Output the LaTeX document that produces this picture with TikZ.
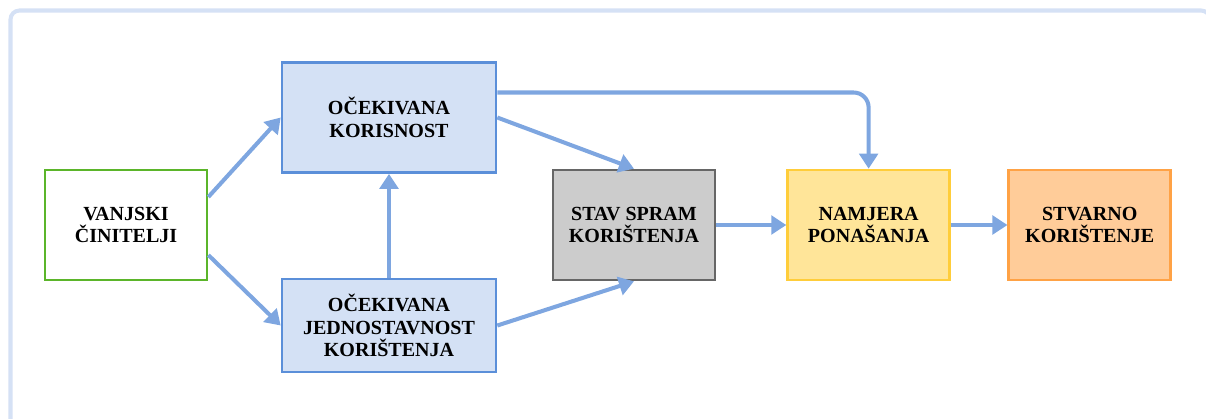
\documentclass[tikz,border=0pt]{standalone}
\usepackage{fontspec}
\setmainfont{Liberation Serif}
\usetikzlibrary{positioning,arrows.meta}

\definecolor{framecol}{HTML}{D5E1F5}
\definecolor{arrowcol}{HTML}{7EA6E0}
\definecolor{bluefill}{HTML}{D4E1F5}
\definecolor{bluedraw}{HTML}{5B8FD9}
\definecolor{greendraw}{HTML}{5BB52A}
\definecolor{greyfill}{HTML}{CCCCCC}
\definecolor{greydraw}{HTML}{666666}
\definecolor{yellowfill}{HTML}{FFE599}
\definecolor{yellowdraw}{HTML}{FFCD3A}
\definecolor{orangefill}{HTML}{FFCC99}
\definecolor{orangedraw}{HTML}{FFA245}

\begin{document}
\begin{tikzpicture}[box/.style={rectangle,line width=1.5pt,align=center,inner sep=2pt,
							font=\fontsize{11.4}{13}\selectfont\bfseries,minimum width=3.24cm,minimum height=2.2cm},
						bluebox/.style={box,fill=bluefill,draw=bluedraw,minimum width=4.28cm},
						greenbox/.style={box,fill=white,draw=greendraw},
						greybox/.style={box,fill=greyfill,draw=greydraw},
						yellowbox/.style={box,fill=yellowfill,draw=yellowdraw},
						orangebox/.style={box,fill=orangefill,draw=orangedraw},
						link/.style={draw=arrowcol,line width=2.3pt,-{Triangle[length=0.3cm,width=0.37cm]}}]
		\useasboundingbox (0,0) rectangle (24.12,-8.36);
		\clip (0,0) rectangle (24.12,-8.36);
		\draw[framecol,line width=2.3pt,rounded corners=0.18cm] (0.21,-0.21) rectangle (24.2,-8.8);

		\node[greenbox]												(vanjski)		at (2.52,-4.5)	{VANJSKI\\ČINITELJI};
		\node[bluebox]												(korisnost)		at (7.78,-2.35)	{OČEKIVANA\\KORISNOST};
		\node[bluebox,minimum height=1.86cm]						(jednostavnost)	at (7.78,-6.51)	{OČEKIVANA\\JEDNOSTAVNOST\\KORIŠTENJA};
		\node[greybox]												(stav)			at (12.68,-4.5)	{STAV SPRAM\\KORIŠTENJA};
		\node[yellowbox,node distance=1.4cm,right=of stav]			(namjera)		{NAMJERA\\PONAŠANJA};
		\node[orangebox,node distance=1.13cm,right=of namjera]		(stvarno)		{STVARNO\\KORIŠTENJE};

		\draw[link] ([yshift=0.56cm]vanjski.east) -- (korisnost.west);
		\draw[link] ([yshift=-0.6cm]vanjski.east) -- (jednostavnost.west);
		\draw[link] (jednostavnost.north) -- (korisnost.south);
		\draw[link] (korisnost.east) -- (stav.north);
		\draw[link] (jednostavnost.east) -- (stav.south);
		\draw[link,rounded corners=0.3cm] ([yshift=0.5cm]korisnost.east) -| (namjera.north);
		\draw[link] (stav.east) -- (namjera.west);
		\draw[link] (namjera.east) -- (stvarno.west);
	\end{tikzpicture}
\end{document}
